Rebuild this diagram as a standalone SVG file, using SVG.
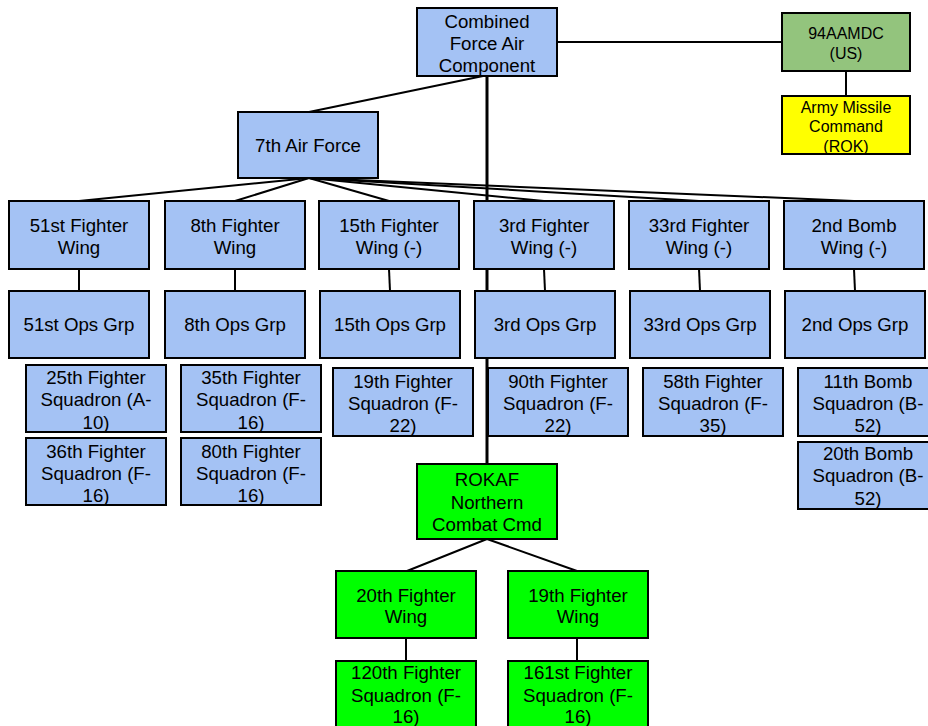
<svg xmlns="http://www.w3.org/2000/svg" width="928" height="726" viewBox="0 0 928 726">
<style>
.b{fill:#a4c2f4;stroke:#000;stroke-width:2}
.g{fill:#00ff00;stroke:#000;stroke-width:2}
.d{fill:#93c47d;stroke:#000;stroke-width:2}
.y{fill:#ffff00;stroke:#000;stroke-width:2}
text{font-family:"Liberation Sans",Arial,sans-serif;font-size:18.67px;fill:#000;text-anchor:middle}
.s{font-size:16px}
#connectors line{stroke:#000;stroke-width:2}
</style>
<rect width="928" height="726" fill="#fff"/>
<g id="connectors">
<line x1="557" y1="42" x2="782" y2="42"/>
<line x1="846" y1="71" x2="846" y2="96"/>
<line x1="483" y1="76" x2="309" y2="112"/>
<line x1="487" y1="76" x2="487" y2="464" style="stroke-width:3"/>
<line x1="309" y1="178" x2="79" y2="201"/>
<line x1="309" y1="178" x2="235" y2="201"/>
<line x1="309" y1="178" x2="389" y2="201"/>
<line x1="309" y1="178" x2="544" y2="201"/>
<line x1="309" y1="178" x2="699" y2="201"/>
<line x1="309" y1="178" x2="854" y2="201"/>
<line x1="79" y1="269" x2="79" y2="291"/>
<line x1="235" y1="269" x2="235" y2="291"/>
<line x1="389" y1="269" x2="390" y2="291"/>
<line x1="544" y1="269" x2="545" y2="291"/>
<line x1="699" y1="269" x2="700" y2="291"/>
<line x1="854" y1="269" x2="855" y2="291"/>
<line x1="487" y1="539" x2="407" y2="571"/>
<line x1="487" y1="539" x2="577" y2="571"/>
<line x1="406" y1="638" x2="406" y2="661"/>
<line x1="577" y1="638" x2="577" y2="661"/>
</g>
<g id="cfac"><rect class="b" x="417" y="8" width="140" height="68"/><text x="487" y="27.5">Combined</text><text x="487" y="50">Force Air</text><text x="487" y="72">Component</text></g>
<g id="aamdc"><rect class="d" x="782" y="13" width="128" height="58"/><text class="s" x="846" y="39">94AAMDC</text><text class="s" x="846" y="59">(US)</text></g>
<g id="amc"><rect class="y" x="782" y="96" width="128" height="58"/><text class="s" x="846" y="112.5">Army Missile</text><text class="s" x="846" y="132">Command</text><text class="s" x="846" y="152">(ROK)</text></g>
<g id="af7"><rect class="b" x="238" y="112" width="140" height="66"/><text x="308" y="151.5">7th Air Force</text></g>
<g id="fw51"><rect class="b" x="9" y="201" width="140" height="68"/><text x="79" y="231.5">51st Fighter</text><text x="79" y="253.5">Wing</text></g>
<g id="fw8"><rect class="b" x="165" y="201" width="140" height="68"/><text x="235" y="231.5">8th Fighter</text><text x="235" y="253.5">Wing</text></g>
<g id="fw15"><rect class="b" x="319" y="201" width="140" height="68"/><text x="389" y="231.5">15th Fighter</text><text x="389" y="253.5">Wing (-)</text></g>
<g id="fw3"><rect class="b" x="474" y="201" width="140" height="68"/><text x="544" y="231.5">3rd Fighter</text><text x="544" y="253.5">Wing (-)</text></g>
<g id="fw33"><rect class="b" x="629" y="201" width="140" height="68"/><text x="699" y="231.5">33rd Fighter</text><text x="699" y="253.5">Wing (-)</text></g>
<g id="bw2"><rect class="b" x="784" y="201" width="140" height="68"/><text x="854" y="231.5">2nd Bomb</text><text x="854" y="253.5">Wing (-)</text></g>
<g id="og51"><rect class="b" x="9" y="291" width="140" height="67"/><text x="79" y="331">51st Ops Grp</text></g>
<g id="og8"><rect class="b" x="165" y="291" width="140" height="67"/><text x="235" y="331">8th Ops Grp</text></g>
<g id="og15"><rect class="b" x="320" y="291" width="140" height="67"/><text x="390" y="331">15th Ops Grp</text></g>
<g id="og3"><rect class="b" x="475" y="291" width="140" height="67"/><text x="545" y="331">3rd Ops Grp</text></g>
<g id="og33"><rect class="b" x="630" y="291" width="140" height="67"/><text x="700" y="331">33rd Ops Grp</text></g>
<g id="og2"><rect class="b" x="785" y="291" width="140" height="67"/><text x="855" y="331">2nd Ops Grp</text></g>
<g id="fs25"><rect class="b" x="26" y="365" width="140" height="67"/><text x="96" y="383.5">25th Fighter</text><text x="96" y="406">Squadron (A-</text><text x="96" y="428.5">10)</text></g>
<g id="fs36"><rect class="b" x="26" y="438" width="140" height="67"/><text x="96" y="457.5">36th Fighter</text><text x="96" y="479.5">Squadron (F-</text><text x="96" y="501.5">16)</text></g>
<g id="fs35"><rect class="b" x="181" y="365" width="140" height="67"/><text x="251" y="383.5">35th Fighter</text><text x="251" y="406">Squadron (F-</text><text x="251" y="428.5">16)</text></g>
<g id="fs80"><rect class="b" x="181" y="438" width="140" height="67"/><text x="251" y="457.5">80th Fighter</text><text x="251" y="479.5">Squadron (F-</text><text x="251" y="501.5">16)</text></g>
<g id="fs19"><rect class="b" x="333" y="368" width="140" height="68"/><text x="403" y="388">19th Fighter</text><text x="403" y="410">Squadron (F-</text><text x="403" y="432">22)</text></g>
<g id="fs90"><rect class="b" x="488" y="368" width="140" height="68"/><text x="558" y="388">90th Fighter</text><text x="558" y="410">Squadron (F-</text><text x="558" y="432">22)</text></g>
<g id="fs58"><rect class="b" x="643" y="368" width="140" height="68"/><text x="713" y="388">58th Fighter</text><text x="713" y="410">Squadron (F-</text><text x="713" y="432">35)</text></g>
<g id="bs11"><rect class="b" x="798" y="368" width="140" height="68"/><text x="868" y="388">11th Bomb</text><text x="868" y="410">Squadron (B-</text><text x="868" y="432">52)</text></g>
<g id="bs20"><rect class="b" x="798" y="442" width="140" height="67"/><text x="868" y="460">20th Bomb</text><text x="868" y="482">Squadron (B-</text><text x="868" y="504.5">52)</text></g>
<g id="rokaf"><rect class="g" x="417" y="464" width="140" height="75"/><text x="487" y="486">ROKAF</text><text x="487" y="509">Northern</text><text x="487" y="530.5">Combat Cmd</text></g>
<g id="fw20"><rect class="g" x="336" y="571" width="140" height="67"/><text x="406" y="601.5">20th Fighter</text><text x="406" y="623">Wing</text></g>
<g id="fw19"><rect class="g" x="508" y="571" width="140" height="67"/><text x="578" y="601.5">19th Fighter</text><text x="578" y="623">Wing</text></g>
<g id="fs120"><rect class="g" x="336" y="661" width="140" height="67"/><text x="406" y="679">120th Fighter</text><text x="406" y="701.5">Squadron (F-</text><text x="406" y="723">16)</text></g>
<g id="fs161"><rect class="g" x="508" y="661" width="140" height="67"/><text x="578" y="679">161st Fighter</text><text x="578" y="701.5">Squadron (F-</text><text x="578" y="723">16)</text></g>
</svg>
